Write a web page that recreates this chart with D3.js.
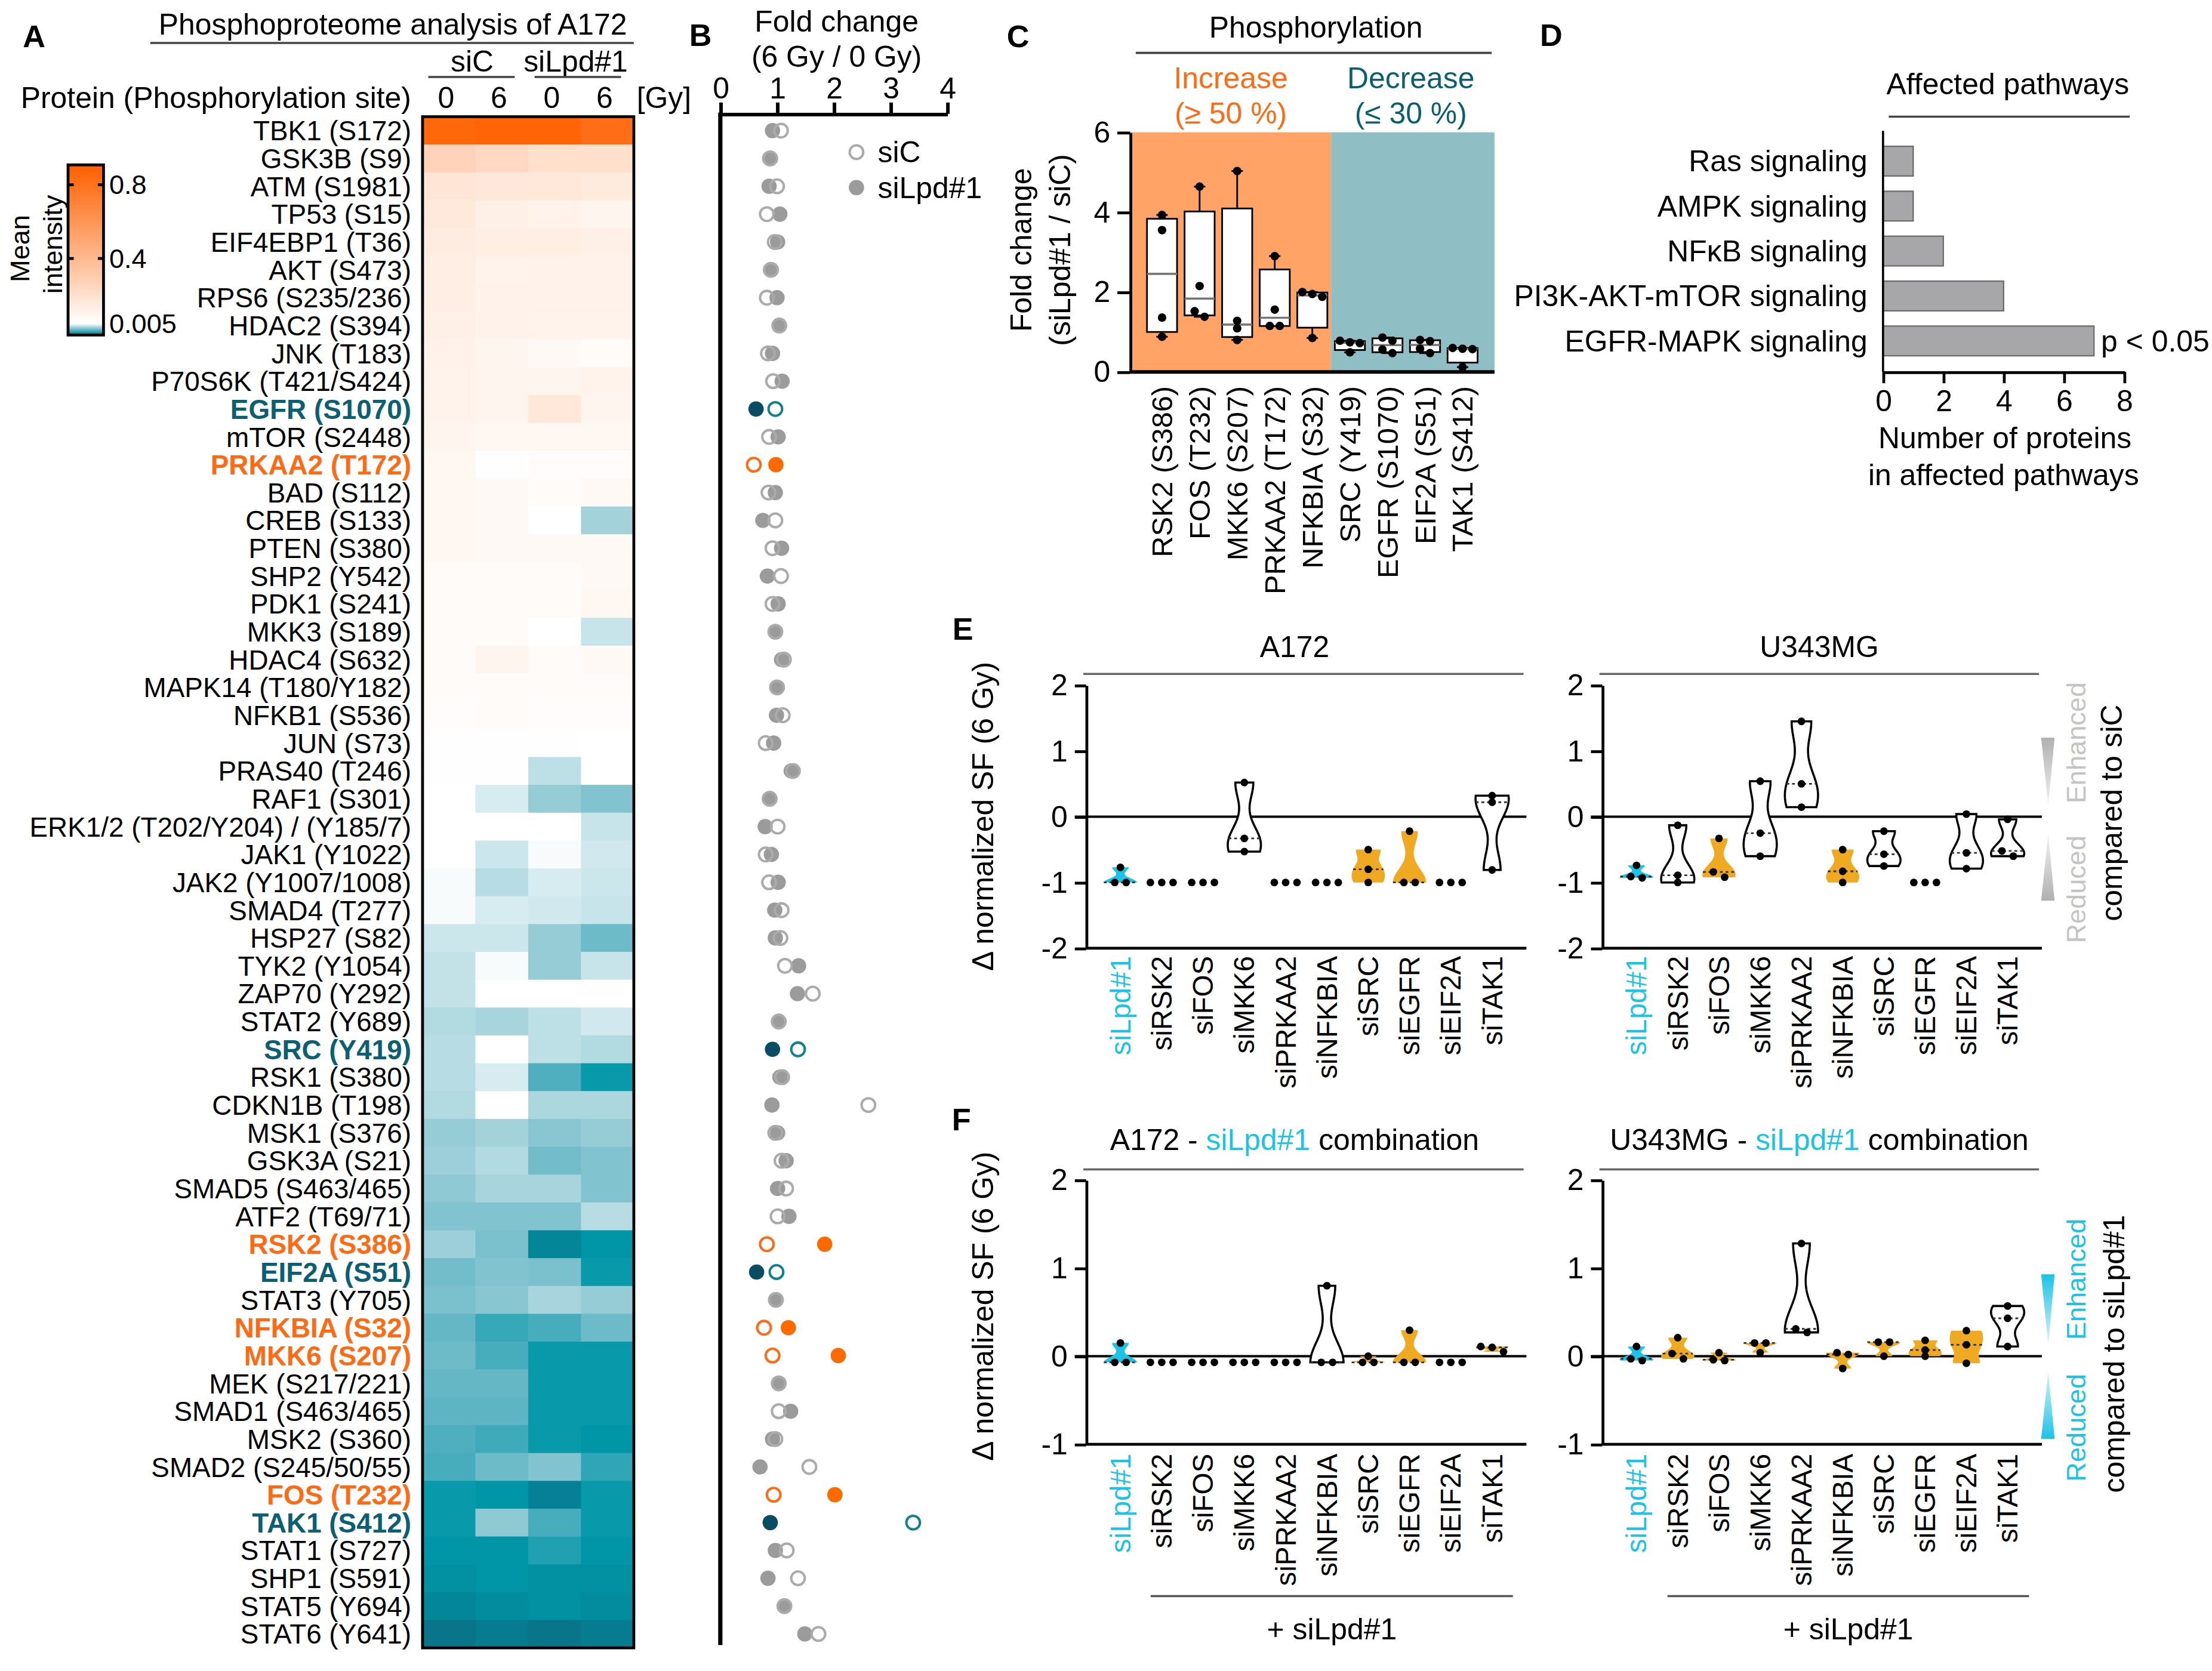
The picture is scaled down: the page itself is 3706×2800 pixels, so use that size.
<!DOCTYPE html>
<html>
<head>
<meta charset="utf-8">
<script src="https://cdn.jsdelivr.net/npm/d3@7"></script>
<style>
  body { margin: 0; background: #fff; }
  svg { display: block; font-family: "Liberation Sans", Arial, sans-serif; }
</style>
</head>
<body>
<div id="fig"></div>
<script>
// ---------------- data ----------------
const proteins = ["TBK1 (S172)", "GSK3B (S9)", "ATM (S1981)", "TP53 (S15)", "EIF4EBP1 (T36)", "AKT (S473)",
  "RPS6 (S235/236)", "HDAC2 (S394)", "JNK (T183)", "P70S6K (T421/S424)", "EGFR (S1070)", "mTOR (S2448)",
  "PRKAA2 (T172)", "BAD (S112)", "CREB (S133)", "PTEN (S380)", "SHP2 (Y542)", "PDK1 (S241)", "MKK3 (S189)",
  "HDAC4 (S632)", "MAPK14 (T180/Y182)", "NFKB1 (S536)", "JUN (S73)", "PRAS40 (T246)", "RAF1 (S301)",
  "ERK1/2 (T202/Y204) / (Y185/7)", "JAK1 (Y1022)", "JAK2 (Y1007/1008)", "SMAD4 (T277)", "HSP27 (S82)",
  "TYK2 (Y1054)", "ZAP70 (Y292)", "STAT2 (Y689)", "SRC (Y419)", "RSK1 (S380)", "CDKN1B (T198)", "MSK1 (S376)",
  "GSK3A (S21)", "SMAD5 (S463/465)", "ATF2 (T69/71)", "RSK2 (S386)", "EIF2A (S51)", "STAT3 (Y705)",
  "NFKBIA (S32)", "MKK6 (S207)", "MEK (S217/221)", "SMAD1 (S463/465)", "MSK2 (S360)", "SMAD2 (S245/50/55)",
  "FOS (T232)", "TAK1 (S412)", "STAT1 (S727)", "SHP1 (S591)", "STAT5 (Y694)", "STAT6 (Y641)"];

const upSites = ["PRKAA2 (T172)", "RSK2 (S386)", "NFKBIA (S32)", "MKK6 (S207)", "FOS (T232)"];
const downSites = ["EGFR (S1070)", "SRC (Y419)", "EIF2A (S51)", "TAK1 (S412)"];

const heatGroups = ["siC", "siLpd#1"];
const heatDoses = ["0", "6", "0", "6"];

// mean intensity: siC 0 Gy, siC 6 Gy, siLpd#1 0 Gy, siLpd#1 6 Gy
const intensity = [
  [0.86, 0.88, 0.88, 0.82], [0.25, 0.22, 0.18, 0.18], [0.15, 0.14, 0.14, 0.12], [0.13, 0.09, 0.07, 0.06],
  [0.11, 0.10, 0.10, 0.09], [0.10, 0.07, 0.08, 0.08], [0.10, 0.08, 0.08, 0.08], [0.09, 0.08, 0.07, 0.07],
  [0.08, 0.06, 0.04, 0.03], [0.07, 0.06, 0.06, 0.07], [0.07, 0.06, 0.14, 0.06], [0.06, 0.05, 0.05, 0.05],
  [0.05, 0.01, 0.02, 0.02], [0.05, 0.04, 0.03, 0.04], [0.05, 0.04, 0.006, 0.0035], [0.05, 0.04, 0.04, 0.04],
  [0.03, 0.03, 0.03, 0.04], [0.03, 0.03, 0.03, 0.05], [0.03, 0.03, 0.005, 0.0042], [0.03, 0.06, 0.03, 0.04],
  [0.03, 0.03, 0.03, 0.03], [0.02, 0.03, 0.02, 0.02], [0.01, 0.01, 0.008, 0.006], [0.008, 0.01, 0.0040, 0.0055],
  [0.0052, 0.0045, 0.0033, 0.0030], [0.0055, 0.006, 0.006, 0.0042], [0.0055, 0.0043, 0.0049, 0.0044],
  [0.0049, 0.0039, 0.0045, 0.0043], [0.0049, 0.0045, 0.0044, 0.0042], [0.0043, 0.0043, 0.0033, 0.0027],
  [0.0041, 0.0049, 0.0033, 0.0042], [0.0041, 0.006, 0.0052, 0.0055], [0.0038, 0.0036, 0.0040, 0.0044],
  [0.0039, 0.0052, 0.0040, 0.0038], [0.0039, 0.0045, 0.0023, 0.0014], [0.0038, 0.0052, 0.0037, 0.0037],
  [0.0033, 0.0035, 0.0031, 0.0033], [0.0034, 0.0038, 0.0028, 0.0030], [0.0032, 0.0036, 0.0036, 0.0030],
  [0.0030, 0.0030, 0.0030, 0.0039], [0.0034, 0.0029, 0.0010, 0.0013], [0.0028, 0.0030, 0.0029, 0.0014],
  [0.0029, 0.0031, 0.0036, 0.0033], [0.0026, 0.0020, 0.0022, 0.0027], [0.0027, 0.0022, 0.0014, 0.0014],
  [0.0026, 0.0026, 0.0014, 0.0014], [0.0025, 0.0025, 0.0014, 0.0014], [0.0023, 0.0021, 0.0014, 0.0013],
  [0.0022, 0.0027, 0.0030, 0.0019], [0.0014, 0.0013, 0.0009, 0.0014], [0.0014, 0.0032, 0.0022, 0.0014],
  [0.0013, 0.0013, 0.0017, 0.0013], [0.0012, 0.0013, 0.0012, 0.0012], [0.0010, 0.0011, 0.0012, 0.0011],
  [0.0007, 0.0008, 0.0007, 0.0008]];
const colorbarTicks = [0.8, 0.4, 0.005];

// fold change 6 Gy / 0 Gy
const foldSiC = [1.07, 0.88, 1.0, 0.82, 0.96, 0.89, 0.82, 1.04, 0.84, 0.93, 0.97, 0.86, 0.59, 0.85, 0.97, 0.92,
  1.07, 0.92, 0.97, 1.12, 1.0, 1.1, 0.8, 1.28, 0.87, 1.01, 0.8, 0.86, 1.08, 1.06, 1.14, 1.63, 1.03, 1.37, 1.09,
  2.61, 0.97, 1.08, 1.16, 1.01, 0.82, 0.99, 0.98, 0.77, 0.92, 1.03, 1.03, 0.97, 1.57, 0.94, 3.4, 1.17, 1.37,
  1.13, 1.73];
const foldSiLpd = [0.92, 0.87, 0.86, 1.05, 1.01, 0.9, 1.0, 1.04, 0.92, 1.09, 0.63, 1.02, 0.98, 0.97, 0.75, 1.08,
  0.83, 1.02, 0.97, 1.08, 1.0, 0.99, 0.94, 1.25, 0.87, 0.79, 0.9, 1.02, 0.96, 0.97, 1.38, 1.36, 1.03, 0.92, 1.05,
  0.91, 1.01, 1.16, 1.01, 1.21, 1.84, 0.64, 0.98, 1.2, 2.08, 1.03, 1.24, 0.92, 0.70, 2.02, 0.88, 0.97, 0.84,
  1.13, 1.49];
const foldTicks = [0, 1, 2, 3, 4];

// panel C
const cCats = ["RSK2 (S386)", "FOS (T232)", "MKK6 (S207)", "PRKAA2 (T172)", "NFKBIA (S32)",
  "SRC (Y419)", "EGFR (S1070)", "EIF2A (S51)", "TAK1 (S412)"];
const cDirection = ["Increase", "Increase", "Increase", "Increase", "Increase",
  "Decrease", "Decrease", "Decrease", "Decrease"];
const cPoints = [[3.93, 3.55, 1.36, 0.88], [4.64, 2.15, 1.52, 1.38], [5.03, 1.28, 1.09, 0.80],
  [2.90, 1.56, 1.15, 1.15], [2.00, 1.95, 1.88, 0.85], [0.78, 0.74, 0.72, 0.49],
  [0.86, 0.78, 0.56, 0.47], [0.80, 0.77, 0.58, 0.47], [0.60, 0.58, 0.57, 0.12]];
const cTicks = [0, 2, 4, 6];

// panel D
const pathways = ["Ras signaling", "AMPK signaling", "NF\u03baB signaling", "PI3K-AKT-mTOR signaling", "EGFR-MAPK signaling"];
const pathwayCounts = [1, 1, 2, 4, 7];
const pathwayTicks = [0, 2, 4, 6, 8];

// panels E / F
const siRNAs = ["siLpd#1", "siRSK2", "siFOS", "siMKK6", "siPRKAA2", "siNFKBIA", "siSRC", "siEGFR", "siEIF2A", "siTAK1"];
const eA172 = [[-0.77, -1, -1], [-1, -1, -1], [-1, -1, -1], [0.52, -0.33, -0.53], [-1, -1, -1], [-1, -1, -1],
  [-0.5, -0.8, -1], [-0.22, -1, -1], [-1, -1, -1], [0.32, 0.22, -0.81]];
const eU343 = [[-0.74, -0.91, -0.93], [-0.13, -0.89, -1.0], [-0.33, -0.84, -0.92], [0.54, -0.25, -0.6],
  [1.45, 0.5, 0.145], [-0.5, -0.83, -1.0], [-0.22, -0.57, -0.75], [-1, -1, -1], [0.04, -0.55, -0.79],
  [-0.04, -0.52, -0.6]];
const fA172 = [[0.15, -0.07, -0.07], [-0.07, -0.07, -0.07], [-0.07, -0.07, -0.07], [-0.07, -0.07, -0.07],
  [-0.07, -0.07, -0.07], [0.8, -0.07, -0.07], [0.0, -0.07, -0.07], [0.295, -0.07, -0.07],
  [-0.07, -0.07, -0.07], [0.11, 0.1, 0.05]];
const fU343 = [[0.11, -0.03, -0.05], [0.21, 0.03, -0.03], [0.04, -0.04, -0.05], [0.15, 0.15, 0.04],
  [1.28, 0.31, 0.27], [0.04, 0.02, -0.14], [0.16, 0.16, 0.0], [0.18, 0.07, 0.0], [0.29, 0.13, -0.08],
  [0.57, 0.43, 0.11]];
// c = siLpd#1 alone, g = combined/shared effect, w = other
const eA172Fill = ["c", "w", "w", "w", "w", "w", "g", "g", "w", "w"];
const eU343Fill = ["c", "w", "g", "w", "w", "g", "w", "w", "w", "w"];
const fA172Fill = ["c", "w", "w", "w", "w", "w", "g", "g", "w", "g"];
const fU343Fill = ["c", "g", "g", "g", "w", "g", "g", "g", "g", "w"];
const eTicks = [-2, -1, 0, 1, 2];
const fTicks = [-1, 0, 1, 2];

// ---------------- setup ----------------
const FONT = 21;
const ORANGE = "#ff6a13", TEAL = "#0b5f73", CYAN = "#1cc3e6", GOLD = "#efaa22";
const intFmt = d => String(d);

const svg = d3.select("#fig").append("svg")
  .attr("width", 3706).attr("height", 2800)
  .attr("viewBox", "0 0 1560 1178");
svg.append("rect").attr("width", 1560).attr("height", 1178).attr("fill", "#fff");
const defs = svg.append("defs");

function styleAxis(g, size, width) {
  g.attr("font-family", null).attr("font-size", size);
  g.select(".domain").attr("stroke", "#000").attr("stroke-width", width);
  g.selectAll(".tick line").attr("stroke", "#000").attr("stroke-width", width);
  g.selectAll(".tick text").attr("fill", "#000");
}

function label(x, y, txt, size, opts = {}) {
  const t = svg.append("text").attr("x", x).attr("y", y)
    .attr("font-size", size).attr("text-anchor", opts.anchor || "middle")
    .attr("fill", opts.fill || "#000").text(txt);
  if (opts.bold) t.attr("font-weight", "bold");
  if (opts.rotate) t.attr("transform", `rotate(-90,${x},${y})`).attr("dy", "0.35em");
  return t;
}

function hline(x1, x2, y, color, w) {
  svg.append("line").attr("x1", x1).attr("x2", x2).attr("y1", y).attr("y2", y)
    .attr("stroke", color).attr("stroke-width", w);
}

function spread(vals, toPx, gap, thresh) {
  const pts = vals.map(v => ({ v, py: toPx(v) })).sort((a, b) => a.py - b.py);
  const clusters = [];
  pts.forEach(p => {
    const last = clusters[clusters.length - 1];
    if (last && p.py - last[last.length - 1].py < thresh) last.push(p);
    else clusters.push([p]);
  });
  clusters.forEach(c => c.forEach((p, j) => { p.dx = (j - (c.length - 1) / 2) * gap; }));
  return pts;
}

// ---------------- Panel A: heatmap ----------------
label(24, 33, "A", 22, { bold: true });
label(277, 24, "Phosphoproteome analysis of A172", FONT);
hline(106, 447, 30, "#444", 1.5);
label(333, 50, heatGroups[0], FONT);
label(406, 50, heatGroups[1], FONT);
hline(302, 363, 54, "#444", 1.5);
hline(377, 438, 54, "#444", 1.5);
label(290, 76, "Protein (Phosphorylation site)", FONT, { anchor: "end" });

const rowY = d3.scaleBand().domain(proteins).range([82, 1162]);
const colX = d3.scaleBand().domain(d3.range(4)).range([298, 447]);
const heatColor = d3.scaleLinear()
  .domain([0.0005, 0.0013, 0.0025, 0.0035, 0.0045, 0.005, 0.9])
  .range(["#0c6a80", "#0096a8", "#5fb4c3", "#a3d2db", "#d6ecf0", "#ffffff", "#ff6000"])
  .clamp(true);

heatDoses.forEach((d, j) => label(colX(j) + colX.bandwidth() / 2 - 2, 76, d, FONT));
label(449, 76, "[Gy]", FONT, { anchor: "start" });

const cells = [];
proteins.forEach((p, i) => intensity[i].forEach((v, j) => cells.push({ p, j, v })));
svg.append("g").selectAll("rect").data(cells).join("rect")
  .attr("x", d => colX(d.j)).attr("y", d => rowY(d.p))
  .attr("width", colX.bandwidth() + 0.4).attr("height", rowY.bandwidth() + 0.4)
  .attr("fill", d => heatColor(d.v));
svg.append("rect").attr("x", 298).attr("y", 82).attr("width", 149).attr("height", 1080)
  .attr("fill", "none").attr("stroke", "#000").attr("stroke-width", 2);

svg.append("g").selectAll("text").data(proteins).join("text")
  .attr("x", 290).attr("y", p => rowY(p) + rowY.bandwidth() / 2).attr("dy", "0.36em")
  .attr("text-anchor", "end").attr("font-size", 19.3)
  .attr("font-weight", p => (upSites.includes(p) || downSites.includes(p)) ? "bold" : null)
  .attr("fill", p => upSites.includes(p) ? ORANGE : downSites.includes(p) ? TEAL : "#000")
  .text(p => p);

// colorbar
const barY = d3.scaleLinear().domain([0.0005, 0.005, 0.4, 0.8, 0.9]).range([236, 228, 182, 130, 116]);
const grad = defs.append("linearGradient").attr("id", "cbar")
  .attr("x1", 0).attr("y1", 0).attr("x2", 0).attr("y2", 1);
d3.range(0, 61).forEach(k => {
  const yy = 116 + 120 * k / 60;
  grad.append("stop").attr("offset", (k / 60 * 100) + "%").attr("stop-color", heatColor(barY.invert(yy)));
});
svg.append("rect").attr("x", 48).attr("y", 116).attr("width", 25).attr("height", 120)
  .attr("fill", "url(#cbar)").attr("stroke", "#000").attr("stroke-width", 2);
colorbarTicks.forEach(t => {
  if (t > 0.01) {
    hline(48, 52, barY(t), "#000", 2);
    hline(69, 73, barY(t), "#000", 2);
  }
  label(77, barY(t), String(t), 19, { anchor: "start" }).attr("dy", "0.35em");
});
label(14, 175, "Mean", 19, { rotate: true });
label(37, 172, "intensity", 19, { rotate: true });

// ---------------- Panel B: fold change dots ----------------
label(494, 32, "B", 22, { bold: true });
label(590, 22, "Fold change", FONT);
label(590, 47, "(6 Gy / 0 Gy)", FONT);
const fcX = d3.scaleLinear().domain([0, 4]).range([508, 668]);
svg.append("g").attr("transform", "translate(0,80)")
  .call(d3.axisTop(fcX).tickValues(foldTicks).tickSize(8).tickPadding(3).tickSizeOuter(0).tickFormat(intFmt))
  .call(g => styleAxis(g, FONT, 2.5));
svg.append("line").attr("x1", 508).attr("x2", 508).attr("y1", 79).attr("y2", 1160)
  .attr("stroke", "#000").attr("stroke-width", 3);

const fillOf = p => upSites.includes(p) ? "#ff6a00" : downSites.includes(p) ? "#0a4d62" : "#9b9b9b";
const strokeOf = p => upSites.includes(p) ? "#ff6a13" : downSites.includes(p) ? "#13808f" : "#ababab";
svg.append("g").selectAll("circle").data(proteins).join("circle")
  .attr("cx", (p, i) => fcX(foldSiLpd[i])).attr("cy", p => rowY(p) + rowY.bandwidth() / 2)
  .attr("r", 5.4).attr("fill", fillOf);
svg.append("g").selectAll("circle").data(proteins).join("circle")
  .attr("cx", (p, i) => fcX(foldSiC[i])).attr("cy", p => rowY(p) + rowY.bandwidth() / 2)
  .attr("r", 4.8).attr("fill", "none").attr("stroke", strokeOf).attr("stroke-width", 1.7);
svg.append("circle").attr("cx", 604).attr("cy", 107).attr("r", 4.8)
  .attr("fill", "none").attr("stroke", "#ababab").attr("stroke-width", 1.7);
svg.append("circle").attr("cx", 604).attr("cy", 132).attr("r", 5.4).attr("fill", "#9b9b9b");
label(619, 107, "siC", FONT, { anchor: "start" }).attr("dy", "0.35em");
label(619, 132, "siLpd#1", FONT, { anchor: "start" }).attr("dy", "0.35em");

// ---------------- Panel C: box plots ----------------
label(718, 33, "C", 22, { bold: true });
label(928, 26, "Phosphorylation", FONT);
hline(801, 1052, 37, "#444", 1.5);
label(868, 62, "Increase", FONT, { fill: ORANGE });
label(868, 87, "(\u2265 50 %)", FONT, { fill: ORANGE });
label(995, 62, "Decrease", FONT, { fill: TEAL });
label(995, 87, "(\u2264 30 %)", FONT, { fill: TEAL });

const cX = d3.scaleBand().domain(cCats).range([797, 1054]).paddingInner(0.2).paddingOuter(0.45);
const cY = d3.scaleLinear().domain([0, 6]).range([262, 93]);
const firstDown = cCats[cDirection.indexOf("Decrease")];
const lastUp = cCats[cDirection.lastIndexOf("Increase")];
const split = (cX(lastUp) + cX.bandwidth() + cX(firstDown)) / 2;
svg.append("rect").attr("x", 797).attr("y", cY(6)).attr("width", split - 797).attr("height", cY(0) - cY(6))
  .attr("fill", "#ffa366");
svg.append("rect").attr("x", split).attr("y", cY(6)).attr("width", 1054 - split).attr("height", cY(0) - cY(6))
  .attr("fill", "#8fbec5");

function q(sorted, p) {
  const n = sorted.length, pos = p * (n + 1);
  if (pos <= 1) return sorted[0];
  if (pos >= n) return sorted[n - 1];
  const k = Math.floor(pos);
  return sorted[k - 1] + (pos - k) * (sorted[k] - sorted[k - 1]);
}
const gC = svg.append("g");
cCats.forEach((c, i) => {
  const s = cPoints[i].slice().sort(d3.ascending);
  const q1 = q(s, 0.25), med = q(s, 0.5), q3 = q(s, 0.75);
  const cx = cX(c) + cX.bandwidth() / 2, bw = cX.bandwidth();
  const line = (x1, x2, y1, y2, col, w) => gC.append("line").attr("x1", x1).attr("x2", x2)
    .attr("y1", y1).attr("y2", y2).attr("stroke", col).attr("stroke-width", w);
  line(cx, cx, cY(s[s.length - 1]), cY(q3), "#000", 1.2);
  line(cx, cx, cY(q1), cY(s[0]), "#000", 1.2);
  line(cx - 4, cx + 4, cY(s[s.length - 1]), cY(s[s.length - 1]), "#000", 1.2);
  line(cx - 4, cx + 4, cY(s[0]), cY(s[0]), "#000", 1.2);
  gC.append("rect").attr("x", cx - bw / 2).attr("y", cY(q3)).attr("width", bw)
    .attr("height", Math.max(cY(q1) - cY(q3), 1)).attr("fill", "#fff").attr("stroke", "#000").attr("stroke-width", 1.2);
  line(cx - bw / 2, cx + bw / 2, cY(med), cY(med), "#777", 1.5);
  spread(cPoints[i], cY, 7, 5).forEach(p => {
    gC.append("circle").attr("cx", cx + p.dx).attr("cy", p.py).attr("r", 3).attr("fill", "#000");
  });
});
svg.append("g").attr("transform", "translate(797,0)")
  .call(d3.axisLeft(cY).tickValues(cTicks).tickSize(9).tickPadding(5).tickSizeOuter(0).tickFormat(intFmt))
  .call(g => styleAxis(g, FONT, 2));
hline(797, 1054, cY(0), "#000", 2.5);
svg.append("g").selectAll("text").data(cCats).join("text")
  .attr("transform", c => `translate(${cX(c) + cX.bandwidth() / 2},272) rotate(-90)`)
  .attr("dy", "0.35em").attr("text-anchor", "end").attr("font-size", 20.5).text(c => c);
label(720, 176, "Fold change", FONT, { rotate: true });
label(747.5, 176, "(siLpd#1 / siC)", FONT, { rotate: true });

// ---------------- Panel D: pathways ----------------
label(1094, 32, "D", 22, { bold: true });
label(1416, 66, "Affected pathways", FONT);
hline(1332, 1502, 82, "#444", 1.5);
const dX = d3.scaleLinear().domain([0, 8]).range([1328, 1498]);
const dY = d3.scaleBand().domain(pathways).range([97.5, 256]).paddingInner(0.34).paddingOuter(0.17);
svg.append("g").selectAll("rect").data(pathways).join("rect")
  .attr("x", dX(0)).attr("y", p => dY(p))
  .attr("width", (p, i) => dX(pathwayCounts[i]) - dX(0)).attr("height", dY.bandwidth())
  .attr("fill", "#a7a7a9").attr("stroke", "#6f6f6f").attr("stroke-width", 1);
svg.append("line").attr("x1", dX(0)).attr("x2", dX(0)).attr("y1", 92).attr("y2", 262)
  .attr("stroke", "#000").attr("stroke-width", 1.5);
svg.append("g").attr("transform", "translate(0,262)")
  .call(d3.axisBottom(dX).tickValues(pathwayTicks).tickSize(8).tickPadding(5).tickSizeOuter(0).tickFormat(intFmt))
  .call(g => styleAxis(g, FONT, 2));
svg.append("g").selectAll("text").data(pathways).join("text")
  .attr("x", 1317).attr("y", p => dY(p) + dY.bandwidth() / 2).attr("dy", "0.35em")
  .attr("text-anchor", "end").attr("font-size", FONT).text(p => p);
const topPath = pathways[pathwayCounts.indexOf(d3.max(pathwayCounts))];
label(dX(d3.max(pathwayCounts)) + 5, dY(topPath) + dY.bandwidth() / 2, "p < 0.05", FONT, { anchor: "start" })
  .attr("dy", "0.35em");
label(1414, 316, "Number of proteins", FONT);
label(1413, 342, "in affected pathways", FONT);

// ---------------- Panels E / F: violins ----------------
function profile(vals) {
  const lo = d3.min(vals), hi = d3.max(vals);
  const h = 0.47 * d3.deviation(vals);
  const pts = d3.range(0, 61).map(k => {
    const v = lo + (hi - lo) * k / 60;
    return { v, d: d3.sum(vals, u => Math.exp(-0.5 * ((v - u) / h) ** 2)) };
  });
  const w = d3.scaleLinear().domain([0, d3.max(pts, p => p.d)]).range([0, 11.7]);
  pts.forEach(p => { p.w = w(p.d); });
  return pts;
}

function violinPanel(cfg) {
  const g = svg.append("g");
  const xP = d3.scalePoint().domain(siRNAs).range([cfg.x0, cfg.x1]).padding(0.83);
  const y = cfg.y;
  const ymin = y.domain()[0];

  // title with coloured part
  const t = g.append("text").attr("x", cfg.titleX).attr("y", cfg.titleY)
    .attr("text-anchor", "middle").attr("font-size", FONT);
  cfg.title.forEach(([s, col]) => t.append("tspan").attr("fill", col).text(s));
  g.append("line").attr("x1", cfg.x0 - 2).attr("x2", cfg.x1 - 2).attr("y1", cfg.lineY).attr("y2", cfg.lineY)
    .attr("stroke", "#666").attr("stroke-width", 1.5);

  g.append("g").attr("transform", `translate(${cfg.x0},0)`)
    .call(d3.axisLeft(y).tickValues(cfg.ticks).tickSize(8).tickPadding(5).tickSizeOuter(0).tickFormat(intFmt))
    .call(a => styleAxis(a, FONT, 2));
  g.append("line").attr("x1", cfg.x0).attr("x2", cfg.x1).attr("y1", y(ymin)).attr("y2", y(ymin))
    .attr("stroke", "#000").attr("stroke-width", 2);
  g.append("line").attr("x1", cfg.x0 - 8).attr("x2", cfg.x1).attr("y1", y(0)).attr("y2", y(0))
    .attr("stroke", "#000").attr("stroke-width", 1.6);

  const colors = { c: CYAN, g: GOLD, w: "#fff" };
  siRNAs.forEach((s, i) => {
    const vals = cfg.data[i];
    const cx = xP(s);
    const ext = d3.max(vals) - d3.min(vals);
    if (ext > 0.005) {
      const prof = profile(vals);
      const area = d3.area().x0(p => cx - p.w).x1(p => cx + p.w).y(p => y(p.v));
      const f = cfg.fills[i];
      g.append("path").attr("d", area(prof)).attr("fill", colors[f])
        .attr("stroke", f === "w" ? "#000" : "none").attr("stroke-width", 1.5);
      const med = d3.median(vals);
      const near = prof.reduce((a, b) => Math.abs(b.v - med) < Math.abs(a.v - med) ? b : a);
      g.append("line").attr("x1", cx - near.w).attr("x2", cx + near.w).attr("y1", y(med)).attr("y2", y(med))
        .attr("stroke", "#333").attr("stroke-width", 1.2).attr("stroke-dasharray", "2 2");
    }
    spread(vals, y, 8, 4).forEach(p => {
      g.append("circle").attr("cx", cx + p.dx).attr("cy", p.py).attr("r", 2.7).attr("fill", "#000");
    });
  });

  g.selectAll(".xl").data(siRNAs).join("text")
    .attr("transform", s => `translate(${xP(s)},${cfg.labelY}) rotate(-90)`)
    .attr("dy", "0.35em").attr("text-anchor", "end").attr("font-size", 20)
    .attr("fill", s => s === "siLpd#1" ? CYAN : "#000").text(s => s);

  if (cfg.bracket) {
    const b = cfg.bracket;
    g.append("line").attr("x1", b[0]).attr("x2", b[1]).attr("y1", 1125.5).attr("y2", 1125.5)
      .attr("stroke", "#555").attr("stroke-width", 1.5);
    g.append("text").attr("x", (b[0] + b[1]) / 2).attr("y", 1156).attr("text-anchor", "middle")
      .attr("font-size", FONT).text("+ siLpd#1");
  }
}

function wedges(id, top0, top1, bot0, bot1, strong, faint) {
  const gd = defs.append("linearGradient").attr("id", id + "t").attr("x1", 0).attr("y1", 0).attr("x2", 0).attr("y2", 1);
  gd.append("stop").attr("offset", "0%").attr("stop-color", strong);
  gd.append("stop").attr("offset", "100%").attr("stop-color", faint);
  const gu = defs.append("linearGradient").attr("id", id + "b").attr("x1", 0).attr("y1", 1).attr("x2", 0).attr("y2", 0);
  gu.append("stop").attr("offset", "0%").attr("stop-color", strong);
  gu.append("stop").attr("offset", "100%").attr("stop-color", faint);
  svg.append("path").attr("d", `M1439.5,${top0}L1449,${top0}L1444.5,${top1}Z`).attr("fill", `url(#${id}t)`);
  svg.append("path").attr("d", `M1444.5,${bot0}L1449,${bot1}L1439.5,${bot1}Z`).attr("fill", `url(#${id}b)`);
}

const yE = d3.scaleLinear().domain([-2, 2]).range([668.5, 483]);
const yF = d3.scaleLinear().domain([-1, 2]).range([1018.4, 832]);

label(679, 451, "E", 22, { bold: true });
violinPanel({ x0: 766, x1: 1076.5, y: yE, ticks: eTicks, data: eA172, fills: eA172Fill,
  title: [["A172", "#000"]], titleX: 913, titleY: 463, lineY: 475, labelY: 674 });
violinPanel({ x0: 1130, x1: 1440, y: yE, ticks: eTicks, data: eU343, fills: eU343Fill,
  title: [["U343MG", "#000"]], titleX: 1283, titleY: 463, lineY: 475, labelY: 674 });
label(693, 575.5, "\u0394 normalized SF (6 Gy)", FONT, { rotate: true });
wedges("we", 520, 568, 588, 635, "#b0b0b0", "#f2f2f2");
label(1464, 523.6, "Enhanced", 19, { rotate: true, fill: "#c4c4c4" });
label(1464, 627, "Reduced", 19, { rotate: true, fill: "#c4c4c4" });
label(1489, 573, "compared to siC", FONT, { rotate: true });

label(678, 797, "F", 22, { bold: true });
violinPanel({ x0: 766, x1: 1076.5, y: yF, ticks: fTicks, data: fA172, fills: fA172Fill,
  title: [["A172 - ", "#000"], ["siLpd#1", CYAN], [" combination", "#000"]],
  titleX: 913, titleY: 811, lineY: 824.5, labelY: 1025, bracket: [811.5, 1067] });
violinPanel({ x0: 1130, x1: 1440, y: yF, ticks: fTicks, data: fU343, fills: fU343Fill,
  title: [["U343MG - ", "#000"], ["siLpd#1", CYAN], [" combination", "#000"]],
  titleX: 1283, titleY: 811, lineY: 824.5, labelY: 1025, bracket: [1176, 1431] });
label(693, 921, "\u0394 normalized SF (6 Gy)", FONT, { rotate: true });
wedges("wf", 898.5, 948, 967, 1014.6, CYAN, "#d8f4fa");
label(1464, 902, "Enhanced", 19, { rotate: true, fill: CYAN });
label(1464, 1006.7, "Reduced", 19, { rotate: true, fill: CYAN });
label(1490.6, 954.6, "compared to siLpd#1", FONT, { rotate: true });
</script>
</body>
</html>
